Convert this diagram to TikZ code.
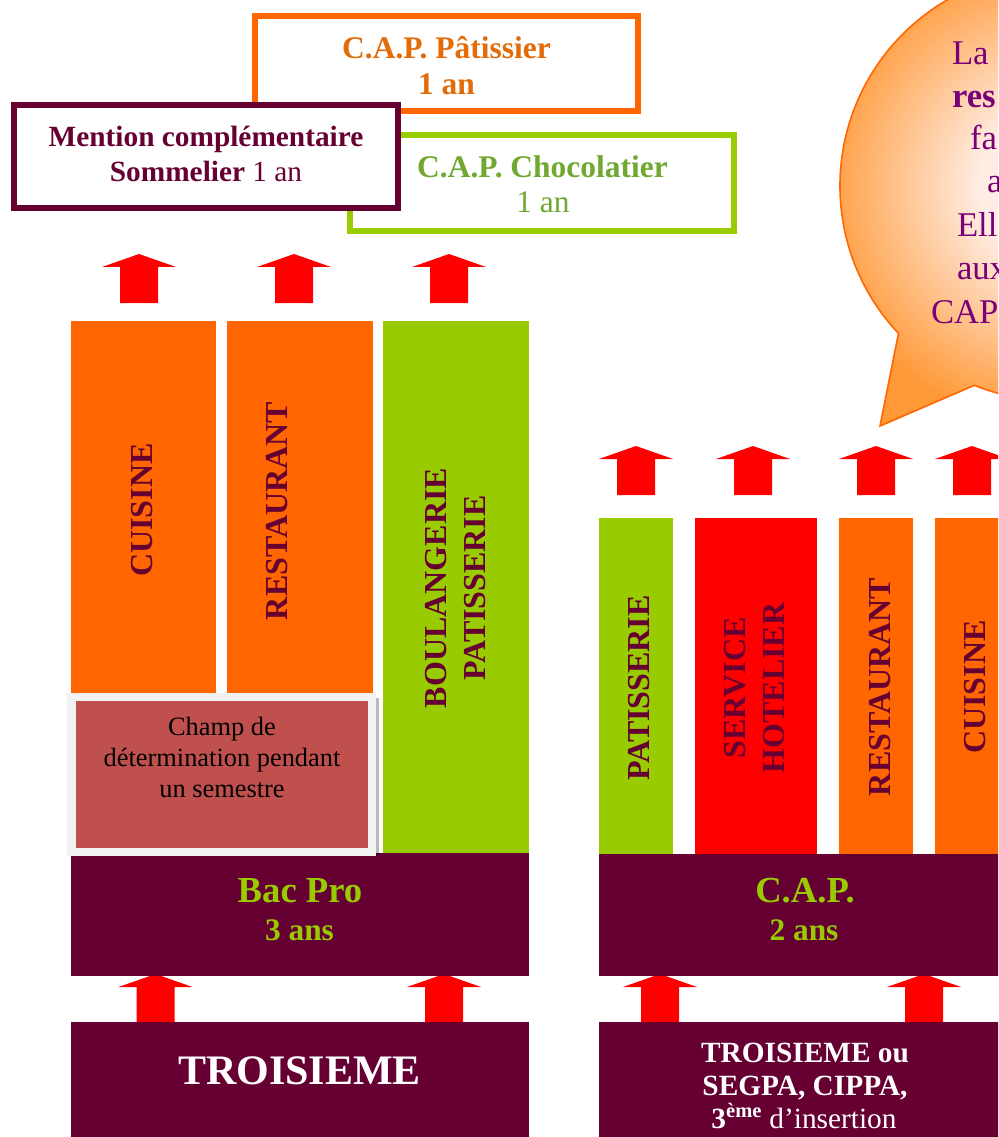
\documentclass[tikz,border=0pt]{standalone}
\usepackage{fontspec}
\setmainfont{Liberation Serif}
\usetikzlibrary{fit}
\definecolor{plum}{HTML}{660033}
\definecolor{orng}{HTML}{FF6600}
\definecolor{lime}{HTML}{99CC00}
\definecolor{redd}{HTML}{FF0000}
\definecolor{otext}{HTML}{E36C09}
\definecolor{gtext}{RGB}{112,168,50}
\definecolor{btext}{RGB}{122,0,122}
\definecolor{champ}{HTML}{C0504D}
\definecolor{champframe}{HTML}{F2F2F2}
\definecolor{bubin}{RGB}{255,236,226}
\definecolor{bubout}{RGB}{255,153,56}
\pgfdeclareradialshading{bubshade}{\pgfpoint{0bp}{0bp}}{color(0bp)=(bubin); color(8bp)=(bubin); color(25bp)=(bubout); color(50bp)=(bubout)}
\tikzset{
  every node/.style={inner sep=0pt, outer sep=0pt},
  area/.style={inner sep=0pt, outer sep=0pt, fit={#1}},
  topbox/.style={line width=4.5pt, fill=white},
  lab/.style={rotate=90, align=center, text=plum, font=\fontsize{24pt}{28.9pt}\selectfont\bfseries},
  ttl/.style={anchor=base, font=\fontsize{23.6pt}{28pt}\selectfont\bfseries},
  ttlr/.style={anchor=base, font=\fontsize{23.6pt}{28pt}\selectfont},
  mention/.style={anchor=base, text=plum, font=\fontsize{22pt}{26pt}\selectfont},
  bubtext/.style={anchor=base west, text=btext, font=\fontsize{26pt}{31pt}\selectfont},
  champtext/.style={anchor=base, text=black, font=\fontsize{19.8pt}{24pt}\selectfont},
  bigtitle/.style={anchor=base, text=lime, font=\fontsize{27.5pt}{32pt}\selectfont\bfseries},
  subtitle/.style={anchor=base, text=lime, font=\fontsize{23.5pt}{28pt}\selectfont\bfseries},
  basetext/.style={anchor=base, text=white, font=\fontsize{22pt}{26pt}\selectfont},
  uparrow/.pic={\fill[redd] (0,0) -- (37,13) -- (19,13) -- (19,49) -- (-19,49) -- (-19,13) -- (-37,13) -- cycle;}
}
\begin{document}
\begin{tikzpicture}[x=0.75pt,y=-0.75pt]
\useasboundingbox (0,0) rectangle (998,1137);
\clip (0,0) rectangle (998,1137);

% ---- speech bubble ----
\path[shade, shading=bubshade, draw=orng, line width=1.2pt]
  (898.5,333.4) arc[start angle=136.7, end angle=472, radius=215] -- (880,426) -- cycle;
\node[bubtext] (b1) at (952,65) {La};
\node[bubtext] (b2) at (952,108) {\bfseries res};
\node[bubtext] (b3) at (970,150) {fa};
\node[bubtext] (b4) at (987,193) {a};
\node[bubtext] (b5) at (957,237) {Ell};
\node[bubtext] (b6) at (957,280) {aux};
\node[bubtext] (b7) at (931,323) {CAP};

% ---- top boxes ----
\node[area={(255,16)(638,111)}, topbox, draw=orng] (patbox) {};
\node[ttl, text=otext] (pat1) at (446.5,59) {C.A.P. Pâtissier};
\node[ttl, text=otext] (pat2) at (446.5,95) {1 an};

\node[area={(350,135)(734,231)}, topbox, draw=lime] (chocbox) {};
\node[ttl, text=gtext] (choc1) at (542.5,178) {C.A.P. Chocolatier};
\node[ttlr, text=gtext] (choc2) at (543,213) {1 an};

\node[area={(14,105)(398,208)}, topbox, draw=plum] (mcbox) {};
\node[mention] (mc1) at (206,147) {\bfseries Mention complémentaire};
\node[mention] (mc2) at (206,182) {\textbf{Sommelier} 1 an};

% ---- arrows ----
\pic (ua1) at (139,254) {uparrow};
\pic (ua2) at (294,254) {uparrow};
\pic (ua3) at (449,254) {uparrow};
\pic (ra1) at (636,446) {uparrow};
\pic (ra2) at (753,446) {uparrow};
\pic (ra3) at (876,446) {uparrow};
\pic (ra4) at (972,446) {uparrow};
\pic (la1) at (155.5,974) {uparrow};
\pic (la2) at (444,974) {uparrow};
\pic (la3) at (660,974) {uparrow};
\pic (la4) at (924,974) {uparrow};

% ---- left section ----
\node[area={(71,321)(216,700)}, fill=orng] (colcuis) {};
\node[area={(227,321)(373,700)}, fill=orng] (colrest) {};
\node[area={(383,321)(529,854)}, fill=lime] (colboul) {};
\node[lab] (lcuis) at (142.5,510) {CUISINE};
\node[lab] (lrest) at (277,511) {RESTAURANT};
\node[lab] (lboul) at (455.5,588) {BOULANGERIE\\PATISSERIE};

\node[area={(71,853)(529,976)}, fill=plum] (bacpro) {};
\node[bigtitle] (bp1) at (300,902) {Bac Pro};
\node[subtitle] (bp2) at (299.5,940) {3 ans};

\fill[black, opacity=0.28] (375,698) rectangle (378.5,856);
\node[area={(67,693)(376,856)}, fill=champframe] (champfr) {};
\node[area={(76,701)(368,848)}, fill=champ] (champbox) {};
\node[champtext] (ch1) at (222,735) {Champ de};
\node[champtext] (ch2) at (222,766) {détermination pendant};
\node[champtext] (ch3) at (222,797) {un semestre};

\node[area={(71,1022)(529,1140)}, fill=plum] (troisl) {};
\node[basetext, font=\fontsize{31.5pt}{36pt}\selectfont\bfseries] (tl) at (299.5,1084) {TROISIEME};

% ---- right section ----
\node[area={(599,518)(673,854)}, fill=lime] (rpat) {};
\node[area={(695,518)(817,854)}, fill=redd] (rserv) {};
\node[area={(839,518)(913,854)}, fill=orng] (rrest) {};
\node[area={(935,518)(1009,854)}, fill=orng] (rcuis) {};
\node[lab] (lrpat) at (639.5,688) {PATISSERIE};
\node[lab] (lrserv) at (754.7,688) {SERVICE\\HOTELIER};
\node[lab] (lrrest) at (880,687) {RESTAURANT};
\node[lab] (lrcuis) at (975,687) {CUISINE};

\node[area={(599,854)(1010,976)}, fill=plum] (capbox) {};
\node[bigtitle] (cap1) at (805,902) {C.A.P.};
\node[subtitle] (cap2) at (804,940) {2 ans};

\node[area={(599,1022)(1010,1140)}, fill=plum] (troisr) {};
\node[basetext] (tr1) at (805,1062) {\bfseries TROISIEME ou};
\node[basetext] (tr2) at (805,1095) {\bfseries SEGPA, CIPPA,};
\node[basetext] (tr3) at (804,1128) {\textbf{3\textsuperscript{ème}} d’insertion};
\end{tikzpicture}
\end{document}
